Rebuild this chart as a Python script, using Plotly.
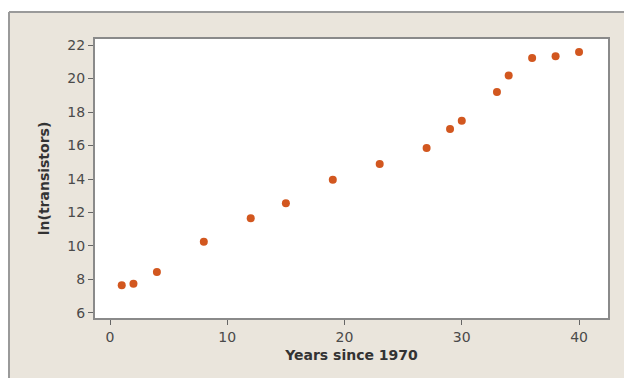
import plotly.graph_objects as go

years_since_1970 = [1, 2, 4, 8, 12, 15, 19, 23, 27, 29, 30, 33, 34, 36, 38, 40]
ln_transistors = [7.65, 7.75, 8.45, 10.25, 11.65, 12.55, 13.95, 14.9, 15.85, 16.98,
                  17.48, 19.2, 20.18, 21.22, 21.33, 21.58]

x_ticks = [0, 10, 20, 30, 40]
y_ticks = [6, 8, 10, 12, 14, 16, 18, 20, 22]

fig = go.Figure()
fig.add_trace(go.Scatter(
    x=years_since_1970, y=ln_transistors, mode="markers",
    marker=dict(color="#D2571F", size=8, line=dict(width=0)),
    showlegend=False, hoverinfo="x+y",
))

W, H = 624, 378
L, T = 95, 39
R = W - 608
B = H - 318
pw, ph = W - L - R, H - T - B

px0 = (9 - L) / pw
py1 = (H - B - 12) / ph

fig.update_layout(
    width=W, height=H,
    margin=dict(l=L, r=R, t=T, b=B),
    paper_bgcolor="white",
    plot_bgcolor="white",
    font=dict(family="DejaVu Sans", color="#4a4a4a", size=13),
    shapes=[
        dict(type="rect", xref="paper", yref="paper", layer="below",
             x0=px0, x1=1.3, y0=-0.5, y1=py1,
             fillcolor="#EAE5DC", line=dict(width=0)),
        dict(type="line", xref="paper", yref="paper", layer="below",
             x0=px0, x1=px0, y0=-0.5, y1=py1,
             line=dict(color="#9a9a9a", width=2)),
        dict(type="line", xref="paper", yref="paper", layer="below",
             x0=px0, x1=1.3, y0=py1, y1=py1,
             line=dict(color="#9a9a9a", width=2)),
        dict(type="rect", xref="paper", yref="paper", layer="below",
             x0=0, x1=1, y0=0, y1=1,
             fillcolor="white", line=dict(width=0)),
    ],
)
fig.update_xaxes(
    range=[-1.28, 42.47], tickvals=x_ticks, ticks="outside", ticklen=5,
    tickcolor="#666", showgrid=False, zeroline=False,
    showline=True, linecolor="#8a8a8a", linewidth=2, mirror=True,
    tickfont=dict(size=14, color="#4a4a4a"),
    title=dict(text="<b>Years since 1970</b>", font=dict(size=14, color="#333"), standoff=6),
)
fig.update_yaxes(
    range=[5.70, 22.36], tickvals=y_ticks, ticks="outside", ticklen=5,
    tickcolor="#666", showgrid=False, zeroline=False,
    showline=True, linecolor="#8a8a8a", linewidth=2, mirror=True,
    tickfont=dict(size=14, color="#4a4a4a"),
    title=dict(text="<b>ln(transistors)</b>", font=dict(size=14, color="#333"), standoff=14),
)

fig.write_html(
    "out.html",
    config={"displayModeBar": False},
    post_script="document.body.style.margin='0';document.body.style.overflow='hidden';",
)
